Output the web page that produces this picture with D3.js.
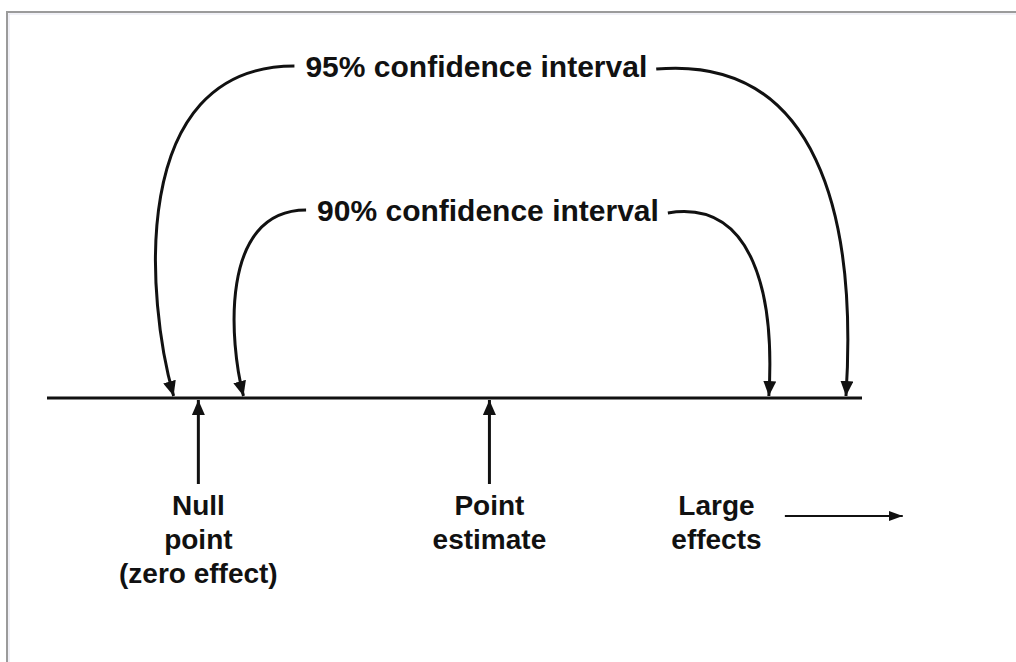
<!DOCTYPE html>
<html>
<head>
<meta charset="utf-8">
<script src="https://cdn.jsdelivr.net/npm/d3@7"></script>
<style>
  html, body { margin: 0; padding: 0; background: #fff; }
  text { font-family: "Liberation Sans", Arial, Helvetica, sans-serif; font-weight: bold; fill: #111; }
</style>
</head>
<body>
<script>
// effect axis (arbitrary effect units, null = 0, point estimate = 10)
const axisExtent = [-5.2, 22.8];
const nullPoint = 0;
const pointEstimate = 10;

// confidence intervals
const ciLevels = ["95%", "90%"];
const ciLower = [-0.85, 1.55];
const ciUpper = [22.25, 19.6];
const ciLabelAt = [9.55, 9.95];

// labels under the axis
const bottomLabels = [["Null", "point", "(zero effect)"], ["Point", "estimate"], ["Large", "effects"]];
const bottomLabelAt = [nullPoint, pointEstimate, 17.8];
const largeArrow = [20.15, 24.2];

const width = 1016;
const height = 662;

const svg = d3.select("body").append("svg").attr("width", width).attr("height", height);

// frame (only top and left edges are visible in the picture)
svg.append("rect")
  .attr("x", 7).attr("y", 12).attr("width", width + 20).attr("height", height + 20)
  .attr("fill", "none").attr("stroke", "#9b9b9b").attr("stroke-width", 2);
svg.append("rect")
  .attr("x", 9).attr("y", 14).attr("width", width + 20).attr("height", height + 20)
  .attr("fill", "none").attr("stroke", "#e4e4f0").attr("stroke-width", 1);

const axisY = 398;
const x = d3.scaleLinear().domain(axisExtent).range([47, 862]);
const yLabel = d3.scalePoint().domain(ciLevels).range([77, 221]);

// arrow heads
const defs = svg.append("defs");
defs.append("marker")
  .attr("id", "head").attr("viewBox", "0 0 15 13")
  .attr("refX", 15).attr("refY", 6.5)
  .attr("markerWidth", 15).attr("markerHeight", 13)
  .attr("markerUnits", "userSpaceOnUse").attr("orient", "auto")
  .append("path").attr("d", "M0,0 L15,6.5 L0,13 Z").attr("fill", "#111");
defs.append("marker")
  .attr("id", "headSmall").attr("viewBox", "0 0 14 10")
  .attr("refX", 14).attr("refY", 5)
  .attr("markerWidth", 14).attr("markerHeight", 10)
  .attr("markerUnits", "userSpaceOnUse").attr("orient", "auto")
  .append("path").attr("d", "M0,0 L14,5 L0,10 Z").attr("fill", "#111");

// the effect axis
svg.append("line")
  .attr("x1", x(axisExtent[0])).attr("x2", x(axisExtent[1]))
  .attr("y1", axisY).attr("y2", axisY)
  .attr("stroke", "#111").attr("stroke-width", 3);

// CI labels and curved connectors
const tipY = axisY - 2;
ciLevels.forEach((lvl, i) => {
  const label = svg.append("text")
    .attr("x", x(ciLabelAt[i]))
    .attr("y", yLabel(lvl))
    .attr("text-anchor", "middle")
    .style("font-size", "30px")
    .text(lvl + " confidence interval");
  const bb = label.node().getBBox();
  const base = yLabel(lvl);

  // left connector
  let x0 = bb.x - 11, y0 = base - 11, x1 = x(ciLower[i]);
  let p = d3.path();
  p.moveTo(x0, y0);
  p.bezierCurveTo(x0 + 1.4 * (x1 - x0), y0,
                  x1 + 0.22 * (x1 - x0), y0 + 0.72 * (tipY - y0),
                  x1, tipY);
  svg.append("path").attr("d", p.toString())
    .attr("fill", "none").attr("stroke", "#111").attr("stroke-width", 3)
    .attr("marker-end", "url(#head)");

  // right connector
  x0 = bb.x + bb.width + 9; y0 = base - 8; x1 = x(ciUpper[i]);
  p = d3.path();
  p.moveTo(x0, y0);
  p.bezierCurveTo(x0 + 0.85 * (x1 - x0), y0 - 14,
                  x1 + 0.06 * (x1 - x0), y0 + 0.45 * (tipY - y0),
                  x1, tipY);
  svg.append("path").attr("d", p.toString())
    .attr("fill", "none").attr("stroke", "#111").attr("stroke-width", 3)
    .attr("marker-end", "url(#head)");
});

// upward arrows for null point and point estimate
[nullPoint, pointEstimate].forEach(v => {
  svg.append("line")
    .attr("x1", x(v)).attr("x2", x(v))
    .attr("y1", 484).attr("y2", axisY + 2)
    .attr("stroke", "#111").attr("stroke-width", 3)
    .attr("marker-end", "url(#head)");
});

// labels below the axis
bottomLabels.forEach((lines, i) => {
  const t = svg.append("text")
    .attr("x", x(bottomLabelAt[i]))
    .attr("y", 515)
    .attr("text-anchor", "middle")
    .style("font-size", "28px");
  t.selectAll("tspan").data(lines).enter().append("tspan")
    .attr("x", x(bottomLabelAt[i]))
    .attr("dy", (d, j) => j === 0 ? 0 : 34)
    .text(d => d);
});

// "large effects" direction arrow
svg.append("line")
  .attr("x1", x(largeArrow[0])).attr("x2", x(largeArrow[1]))
  .attr("y1", 516).attr("y2", 516)
  .attr("stroke", "#111").attr("stroke-width", 2)
  .attr("marker-end", "url(#headSmall)");
</script>
</body>
</html>
